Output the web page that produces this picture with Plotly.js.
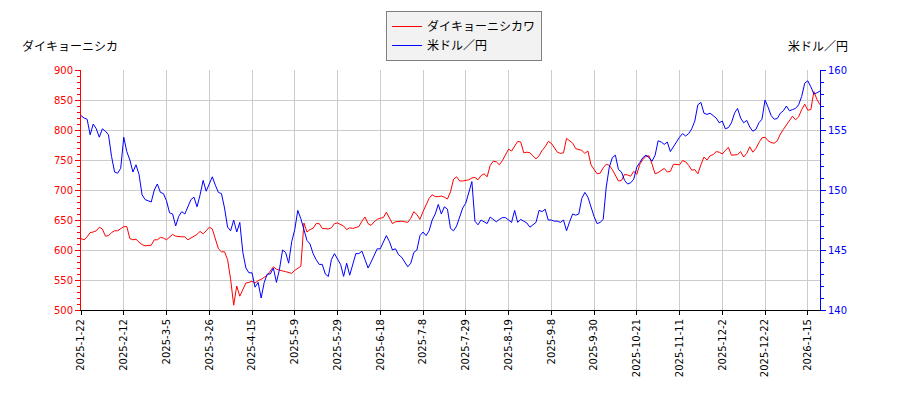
<!DOCTYPE html>
<html><head><meta charset="utf-8">
<script src="https://cdn.plot.ly/plotly-3.0.1.min.js"></script>
<style>body{margin:0;background:#fff}#chart{width:900px;height:400px}</style>
</head><body><div id="chart"></div>
<script>
const dates = [
'2025-01-22','2025-01-23','2025-01-24','2025-01-27','2025-01-28','2025-01-29','2025-01-30','2025-01-31','2025-02-03','2025-02-04',
'2025-02-05','2025-02-06','2025-02-07','2025-02-10','2025-02-12','2025-02-13','2025-02-14','2025-02-17','2025-02-18','2025-02-19',
'2025-02-20','2025-02-21','2025-02-25','2025-02-26','2025-02-27','2025-02-28','2025-03-03','2025-03-04','2025-03-05','2025-03-06',
'2025-03-07','2025-03-10','2025-03-11','2025-03-12','2025-03-13','2025-03-14','2025-03-17','2025-03-18','2025-03-19','2025-03-21',
'2025-03-24','2025-03-25','2025-03-26','2025-03-27','2025-03-28','2025-03-31','2025-04-01','2025-04-02','2025-04-03','2025-04-04',
'2025-04-07','2025-04-08','2025-04-09','2025-04-10','2025-04-11','2025-04-14','2025-04-15','2025-04-16','2025-04-17','2025-04-18',
'2025-04-21','2025-04-22','2025-04-23','2025-04-24','2025-04-25','2025-04-28','2025-04-30','2025-05-02','2025-05-07','2025-05-08',
'2025-05-09','2025-05-12','2025-05-13','2025-05-14','2025-05-15','2025-05-16','2025-05-19','2025-05-20','2025-05-21','2025-05-22',
'2025-05-23','2025-05-26','2025-05-27','2025-05-28','2025-05-29','2025-05-30','2025-06-02','2025-06-03','2025-06-04','2025-06-05',
'2025-06-06','2025-06-09','2025-06-10','2025-06-11','2025-06-12','2025-06-13','2025-06-16','2025-06-17','2025-06-18','2025-06-19',
'2025-06-20','2025-06-23','2025-06-24','2025-06-25','2025-06-26','2025-06-27','2025-06-30','2025-07-01','2025-07-02','2025-07-03',
'2025-07-04','2025-07-07','2025-07-08','2025-07-09','2025-07-10','2025-07-11','2025-07-14','2025-07-15','2025-07-16','2025-07-17',
'2025-07-18','2025-07-22','2025-07-23','2025-07-24','2025-07-25','2025-07-28','2025-07-29','2025-07-30','2025-07-31','2025-08-01',
'2025-08-04','2025-08-05','2025-08-06','2025-08-07','2025-08-08','2025-08-12','2025-08-13','2025-08-14','2025-08-15','2025-08-18',
'2025-08-19','2025-08-20','2025-08-21','2025-08-22','2025-08-25','2025-08-26','2025-08-27','2025-08-28','2025-08-29','2025-09-01',
'2025-09-02','2025-09-03','2025-09-04','2025-09-05','2025-09-08','2025-09-09','2025-09-10','2025-09-11','2025-09-12','2025-09-16',
'2025-09-17','2025-09-18','2025-09-19','2025-09-22','2025-09-24','2025-09-25','2025-09-26','2025-09-29','2025-09-30','2025-10-01',
'2025-10-02','2025-10-03','2025-10-06','2025-10-07','2025-10-08','2025-10-09','2025-10-10','2025-10-14','2025-10-15','2025-10-16',
'2025-10-17','2025-10-20','2025-10-21','2025-10-22','2025-10-23','2025-10-24','2025-10-27','2025-10-28','2025-10-29','2025-10-30',
'2025-10-31','2025-11-04','2025-11-05','2025-11-06','2025-11-07','2025-11-10','2025-11-11','2025-11-12','2025-11-13','2025-11-14',
'2025-11-17','2025-11-18','2025-11-19','2025-11-20','2025-11-21','2025-11-25','2025-11-26','2025-11-27','2025-11-28','2025-12-01',
'2025-12-02','2025-12-03','2025-12-04','2025-12-05','2025-12-08','2025-12-09','2025-12-10','2025-12-11','2025-12-12','2025-12-15',
'2025-12-16','2025-12-17','2025-12-18','2025-12-19','2025-12-22','2025-12-23','2025-12-24','2025-12-25','2025-12-26','2025-12-29',
'2025-12-30','2026-01-05','2026-01-06','2026-01-07','2026-01-08','2026-01-09','2026-01-13','2026-01-14','2026-01-15','2026-01-16',
'2026-01-19','2026-01-20','2026-01-21'
];

const daikyoNishikawa = [
619,617,622,629,630,632,638,635,623,624,
629,632,632,636,639,639,619,617,618,613,
609,607,608,608,617,617,621,620,617,622,
626,623,622,622,622,617,620,623,626,631,
627,632,638,635,620,602,597,597,584,551,
508,540,523,535,545,546,548,545,549,551,
555,558,565,572,568,566,565,564,563,561,
566,569,573,645,630,634,636,644,644,636,
636,635,637,644,645,643,640,634,637,636,
638,639,648,655,644,641,647,651,653,654,
663,654,644,647,648,648,647,646,653,664,
659,651,664,675,686,692,689,689,690,688,
685,697,718,722,715,715,716,717,720,721,
717,724,727,722,741,748,747,742,749,758,
768,765,774,781,780,762,763,762,757,752,
757,766,772,781,778,771,763,761,762,786,
782,778,769,768,766,761,765,742,734,727,
728,737,743,741,734,725,715,716,726,725,
723,731,726,743,751,756,757,743,727,729,
732,736,730,731,743,742,742,749,747,741,
733,734,727,742,755,750,757,759,764,763,
760,766,771,758,758,759,764,755,761,772,
763,769,779,787,788,782,779,778,782,793,
801,808,817,823,817,822,834,843,833,834,
864,851,842
];

const usdJpy = [
156.2,156.0,155.9,154.6,155.5,155.1,154.4,155.1,154.9,154.6,
152.8,151.5,151.4,151.8,154.4,153.2,152.5,151.5,152.1,151.3,
149.6,149.2,149.1,149.0,150.0,150.5,149.8,149.7,149.1,148.1,
148.0,147.0,147.8,148.2,148.0,148.6,149.2,149.4,148.6,149.6,
150.8,149.9,150.5,151.1,150.4,149.8,149.7,148.5,146.9,146.6,
147.5,146.5,147.3,144.8,143.5,143.1,143.1,141.9,142.3,141.0,
142.3,143.0,143.0,143.5,142.3,143.4,145.0,144.8,143.9,145.7,
146.7,148.3,147.6,146.7,145.8,145.5,144.7,144.2,143.8,143.8,
143.0,142.8,144.2,144.7,144.2,143.8,142.8,143.9,142.9,143.8,
144.7,144.7,144.9,144.2,143.5,144.0,144.5,145.1,145.1,145.6,
146.2,145.7,145.0,145.1,144.6,144.4,144.0,143.6,143.9,144.8,
145.0,146.2,146.5,146.2,146.6,147.5,148.0,148.8,148.0,148.6,
148.4,146.8,146.6,147.0,147.75,148.5,148.9,149.9,150.7,147.4,
147.1,147.5,147.35,147.2,147.75,147.55,147.35,147.55,147.7,147.7,
147.5,147.3,148.3,147.3,147.55,147.4,147.25,146.9,147.1,147.3,
148.3,148.2,148.4,147.5,147.5,147.4,147.4,147.3,147.5,146.6,
147.35,148.0,147.9,148.0,149.3,149.8,149.4,148.5,147.8,147.2,
147.3,147.55,150.25,151.9,152.7,152.9,151.7,151.5,150.8,150.5,
150.6,150.9,151.9,152.3,152.7,152.9,152.7,152.4,152.9,154.1,
154.0,153.8,154.0,153.2,153.6,154.1,154.4,154.7,154.5,154.7,
155.1,155.75,157.1,157.3,156.4,156.3,156.4,156.2,156.0,155.6,
155.75,155.1,155.2,155.6,156.4,156.8,156.0,155.6,155.8,155.25,
154.9,155.05,155.6,155.9,157.5,156.9,156.2,155.9,155.95,156.4,
156.6,157.0,156.6,156.7,156.8,157.1,157.8,158.9,159.1,158.6,
158.0,158.1,158.25
];

const tickLabels = ['2025-1-22','2025-2-12','2025-3-5','2025-3-26','2025-4-15','2025-5-9','2025-5-29','2025-6-18','2025-7-8',
'2025-7-29','2025-8-19','2025-9-8','2025-9-30','2025-10-21','2025-11-11','2025-12-2','2025-12-22','2026-1-15'];
const tickStep = 14;
const seriesNames = ['ダイキョーニシカワ', '米ドル／円'];
const leftTitle = 'ダイキョーニシカ';
const rightTitle = '米ドル／円';

const tickVals = dates.filter((d, i) => i % tickStep === 0);

const traces = [
  {x: dates, y: daikyoNishikawa, name: seriesNames[0], type: 'scatter', mode: 'lines',
   line: {color: '#ff0000', width: 1}, yaxis: 'y'},
  {x: dates, y: usdJpy, name: seriesNames[1], type: 'scatter', mode: 'lines',
   line: {color: '#0000ff', width: 1}, yaxis: 'y2'}
];

const cjk = '"Noto Sans CJK JP", "Noto Sans", sans-serif';
const layout = {
  width: 900, height: 400,
  margin: {l: 81, r: 80, t: 70, b: 90, pad: 0, autoexpand: false},
  paper_bgcolor: '#ffffff', plot_bgcolor: '#ffffff',
  font: {family: '"DejaVu Sans", sans-serif', size: 10, color: '#000'},
  showlegend: true,
  legend: {xref: 'container', yref: 'container', x: 0.429, y: 0.9725, xanchor: 'left', yanchor: 'top',
    bgcolor: '#f2f2f2', bordercolor: '#808080', borderwidth: 1,
    font: {family: cjk, size: 12, color: '#000'}, itemwidth: 30, tracegroupgap: 0},
  xaxis: {type: 'category', range: [0, dates.length - 1], tickmode: 'array', tickvals: tickVals, ticktext: tickLabels,
    tickangle: -90, showgrid: true, gridcolor: '#cccccc', gridwidth: 1, showline: true, linecolor: '#000', linewidth: 1,
    ticks: 'outside', ticklen: 4, tickcolor: '#000', tickfont: {size: 10, color: '#000'}, zeroline: false, mirror: false},
  yaxis: {range: [500, 900], tick0: 500, dtick: 50, showgrid: true, gridcolor: '#cccccc', gridwidth: 1,
    showline: true, linecolor: '#ff0000', linewidth: 1, ticks: 'outside', ticklen: 5, tickcolor: '#ff0000',
    tickfont: {color: '#ff0000', size: 10}, zeroline: false,
    minor: {dtick: 10, ticks: 'outside', ticklen: 3, tickcolor: '#ff0000', showgrid: false}},
  yaxis2: {range: [140, 160], tick0: 140, dtick: 5, overlaying: 'y', side: 'right', showgrid: false,
    showline: true, linecolor: '#0000ff', linewidth: 1, ticks: 'outside', ticklen: 5, tickcolor: '#0000ff',
    tickfont: {color: '#0000ff', size: 10}, zeroline: false,
    minor: {dtick: 1, ticks: 'outside', ticklen: 3, tickcolor: '#0000ff', showgrid: false}},
  annotations: [
    {text: leftTitle, xref: 'paper', yref: 'paper', x: -0.0825, y: 1.1, xanchor: 'left', yanchor: 'middle',
     showarrow: false, font: {family: cjk, size: 12, color: '#000'}},
    {text: rightTitle, xref: 'paper', yref: 'paper', x: 1.0406, y: 1.1, xanchor: 'right', yanchor: 'middle',
     showarrow: false, font: {family: cjk, size: 12, color: '#000'}}
  ]
};

Plotly.newPlot('chart', traces, layout, {displayModeBar: false, staticPlot: true});
</script>
</body></html>
